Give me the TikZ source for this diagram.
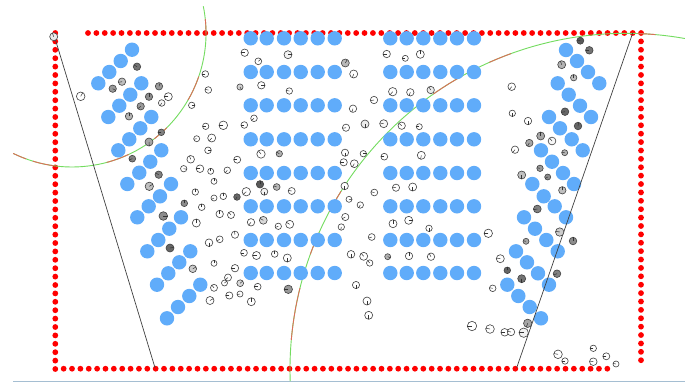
\documentclass[tikz,border=0pt]{standalone}
\definecolor{seat}{RGB}{96,172,250}
\definecolor{wallred}{RGB}{255,0,0}
\definecolor{arcgreen}{RGB}{115,220,95}
\definecolor{arcred}{RGB}{220,110,90}
\definecolor{floorline}{RGB}{165,190,210}
\tikzset{
  wall/.style={fill=wallred},
  seatdot/.style={fill=seat},
  sightline/.style={draw=black!75,line width=0.7pt},
  wave/.style={line width=0.9pt}
}
\newcommand{\ped}[5]{%
  \filldraw[draw=black!75,line width=0.6pt,fill=black!#4] (#1,#2) circle[radius=#3pt];
  \draw[black!80,line width=0.5pt] (#1,#2) -- ++(#5:#3pt);}
\begin{document}
\begin{tikzpicture}[x=1pt,y=-1pt]
\useasboundingbox (0,0) rectangle (685,384);
\fill[white] (0,0) rectangle (685,384);
% floor line
\draw[floorline,line width=0.9pt] (13,381.7) -- (685,381.7);
% red walls
\foreach \i in {0,...,40} \fill[wall] (55.3,33+8.4*\i) circle[radius=2.9pt];
\foreach \i in {1,...,66} \fill[wall] (55.3+8.364*\i,368.7) circle[radius=2.9pt];
\foreach \i in {0,...,66} \fill[wall] (88+8.38*\i,33) circle[radius=2.9pt];
\foreach \i in {1,...,39} \fill[wall] (641,33+8.39*\i) circle[radius=2.9pt];
% arcs
\coordinate (ca) at (72,33);
\coordinate (cb) at (626,369.3);
\draw[wave,arcgreen] (ca) ++(11.5:134pt) arc[start angle=11.5,end angle=-116,radius=134pt];
\foreach \s/\e in {6/0,-19/-30,-45/-52,-65/-75,-98/-107,-110/-116}
  \draw[wave,arcred] (ca) ++(\s:134pt) arc[start angle=\s,end angle=\e,radius=134pt];
\draw[wave,arcgreen] (cb) ++(182:336pt) arc[start angle=182,end angle=79.8,radius=336pt];
\foreach \s/\e in {175/166,160/156,152/148,125/120,114/110,88/85}
  \draw[wave,arcred] (cb) ++(\s:336pt) arc[start angle=\s,end angle=\e,radius=336pt];
% blue seats: centre blocks
\foreach \y in {38.3,72,105.3,139.3,173,206.3,240,273}{
  \foreach \x in {250.7,266.7,284,300.7,317.7,334.7}
    \fill[seatdot] (\x,\y) circle[radius=7.2pt];
  \foreach \x in {390.3,406.7,423.3,440.3,457,474}
    \fill[seatdot] (\x,\y) circle[radius=7.2pt];
}
% blue seats: diagonals
\foreach \x/\y in {132/49.7,120.7/61,109.3/72,98.3/83.3,
 141.3/83.3,130.3/94.7,119.3/105.7,108.3/117,
 151.3/117,140.3/128.3,129.3/139.3,118.3/150.3,
 161.3/150.3,150.3/161.7,139.3/172.7,127.3/184,
 171/184,160/196.3,148.7/206.3,137.3/217.3,
 181/217.3,169.3/228.7,158.3/240,147.3/251.3,
 190.3/251.3,179.3/262.3,168.3/273.3,157/284.7,
 200.3/284.7,189.3/296,178/307,167/318.3,
 566/50,577/61,588/72,599.3/83.3,
 557.7/83.3,568.7/94.7,580/105.7,591/117,
 549/117,560/128.3,571.7/139.3,582.7/150.3,
 541/150.3,552/161.7,563/173,574/184,
 532.3/184,543.7/196.3,554.7/206.3,566/217.3,
 524/217.3,535/228.7,546.3/240,557.7/251.3,
 516/251.3,527/262.3,538/273.3,549/284.7,
 507.3/284.7,518.3/296,529.7/307,541/318.3}
  \fill[seatdot] (\x,\y) circle[radius=7.2pt];
% sight lines
\coordinate (la) at (54,35);
\coordinate (lb) at (155,367.7);
\coordinate (ra) at (632.7,33);
\coordinate (rb) at (516.7,367.7);
\draw[sightline] (la) -- (lb);
\draw[sightline] (ra) -- (rb);
% pedestrians: x, y, radius, darkness, heading
\ped{53.7}{36.7}{4}{8}{110}
\ped{80.7}{96.3}{4.3}{0}{60}
\ped{137}{66.7}{3.7}{55}{150}
\ped{122}{81.7}{3.7}{25}{190}
\ped{112.7}{88.7}{3.7}{40}{-30}
\ped{159}{86.3}{3.7}{40}{70}
\ped{149}{96.7}{3.7}{45}{90}
\ped{168.3}{96.7}{4}{0}{180}
\ped{161.7}{103}{3.3}{3}{-120}
\ped{140.7}{106.3}{3.7}{40}{220}
\ped{129}{116.3}{3.7}{30}{90}
\ped{161.3}{132.3}{3.3}{50}{180}
\ped{149}{142}{4}{35}{-85}
\ped{132.3}{158.7}{3.4}{50}{200}
\ped{158.7}{174.7}{3.7}{50}{150}
\ped{149.3}{186.3}{4.2}{25}{30}
\ped{205.3}{74}{3.3}{0}{180}
\ped{208.3}{90}{3.3}{0}{170}
\ped{191.7}{105.3}{3.2}{0}{0}
\ped{205.7}{126.3}{3.2}{0}{180}
\ped{223.3}{125.3}{4.3}{0}{180}
\ped{196.7}{138.7}{3}{0}{190}
\ped{211.7}{138}{4}{0}{230}
\ped{208}{150.3}{3.3}{0}{0}
\ped{190.7}{159.3}{3.8}{0}{110}
\ped{183.7}{168.7}{3.2}{0}{-10}
\ped{200}{168.7}{3.8}{0}{180}
\ped{210.7}{171.3}{3}{0}{90}
\ped{214}{181.3}{3}{0}{90}
\ped{227.3}{170.3}{3.3}{0}{230}
\ped{244.3}{125}{3.3}{0}{180}
\ped{254}{118.3}{3.3}{0}{220}
\ped{261}{154}{4.2}{0}{130}
\ped{237.2}{159.7}{3.5}{0}{180}
\ped{260}{184.3}{3.7}{65}{90}
\ped{276.7}{187}{3.4}{28}{160}
\ped{264.3}{191.7}{3.5}{5}{-90}
\ped{291.7}{191}{3.5}{0}{170}
\ped{246.3}{191.7}{4.2}{0}{220}
\ped{237}{197}{3.3}{60}{-120}
\ped{223.3}{196.3}{3.3}{0}{90}
\ped{214}{198}{3}{0}{-150}
\ped{195.3}{192}{3.2}{0}{90}
\ped{184.3}{203.3}{3.3}{45}{90}
\ped{201.7}{207.2}{3.3}{0}{90}
\ped{219.7}{214}{3.7}{0}{90}
\ped{231}{215}{3.5}{0}{130}
\ped{196.3}{223}{4}{0}{90}
\ped{251}{222.3}{3.7}{0}{-130}
\ped{263.3}{220.3}{3.9}{15}{150}
\ped{235}{234.7}{3.6}{0}{100}
\ped{209}{242.7}{3.8}{0}{-90}
\ped{219.7}{239.3}{3.4}{0}{-150}
\ped{244}{252.8}{3.4}{0}{180}
\ped{256.5}{255.5}{4}{0}{180}
\ped{192.8}{268.8}{3.8}{20}{30}
\ped{214}{263.3}{3}{0}{90}
\ped{235}{268.2}{3.7}{0}{180}
\ped{228}{277.5}{3.5}{0}{220}
\ped{224.5}{283}{3}{0}{40}
\ped{240.2}{283.2}{3.4}{15}{40}
\ped{257.7}{286.7}{3.4}{0}{180}
\ped{214}{287.8}{3.5}{0}{130}
\ped{210}{300.5}{4}{0}{30}
\ped{229.3}{295.5}{3.6}{0}{180}
\ped{240}{294}{3}{0}{190}
\ped{251.3}{301.7}{4}{0}{90}
\ped{163.3}{216}{4.3}{45}{0}
\ped{170}{248}{4}{60}{10}
\ped{244.7}{52.7}{3.7}{0}{180}
\ped{258.3}{61.3}{3.4}{0}{40}
\ped{288}{54.7}{4}{5}{0}
\ped{345.3}{63}{4}{28}{60}
\ped{353.7}{74}{4}{0}{-110}
\ped{240}{87}{3.1}{18}{-60}
\ped{261.3}{85.3}{3.7}{0}{0}
\ped{289.3}{91}{3.2}{0}{170}
\ped{374}{100}{3.7}{0}{190}
\ped{353}{108.7}{3.7}{0}{-110}
\ped{392.7}{91.7}{4.2}{0}{-130}
\ped{410.3}{92.3}{3.7}{0}{-110}
\ped{430.7}{90}{3.7}{8}{120}
\ped{386.7}{54}{3.7}{0}{180}
\ped{405.3}{58.3}{3}{0}{180}
\ped{420.3}{54.3}{4}{0}{90}
\ped{346}{127.7}{3.6}{0}{190}
\ped{365}{124}{4}{8}{-90}
\ped{383.7}{123.7}{4}{3}{170}
\ped{401.7}{125.7}{3.7}{0}{140}
\ped{419.3}{126.7}{3}{0}{180}
\ped{279.3}{153.7}{3.2}{30}{150}
\ped{345}{152.7}{3.6}{0}{-90}
\ped{363.3}{153.7}{3.2}{0}{0}
\ped{343.7}{162.3}{3.6}{0}{180}
\ped{354.3}{163.7}{3.9}{0}{-120}
\ped{384.3}{156.7}{3.4}{0}{180}
\ped{421.3}{155.3}{4}{0}{-100}
\ped{344.7}{186}{3.7}{0}{-90}
\ped{396}{187.7}{3.6}{0}{170}
\ped{412.7}{187}{4}{0}{-90}
\ped{374.3}{192.5}{3.4}{0}{170}
\ped{349}{199.3}{3}{0}{-10}
\ped{360.3}{205}{3.2}{0}{-120}
\ped{345.3}{217}{3.6}{0}{-150}
\ped{341.3}{227}{3.2}{0}{-100}
\ped{278.3}{226.3}{3.2}{0}{200}
\ped{289.7}{224.3}{4}{0}{150}
\ped{393}{223.7}{4}{0}{90}
\ped{408.7}{220.3}{4}{0}{0}
\ped{429}{228.3}{3.2}{0}{-90}
\ped{371.7}{237}{3.4}{0}{200}
\ped{274.7}{254}{3.3}{0}{90}
\ped{287.3}{258}{4}{0}{-90}
\ped{351}{254.3}{3.8}{0}{-90}
\ped{363.7}{256.3}{4}{0}{130}
\ped{369.7}{263}{3.2}{0}{130}
\ped{387.7}{256.7}{3}{30}{-20}
\ped{409}{256}{3.7}{0}{90}
\ped{431}{256.7}{3.7}{0}{120}
\ped{288.3}{289.3}{4.2}{40}{180}
\ped{356}{285}{3.6}{0}{-90}
\ped{367}{301}{4}{0}{-90}
\ped{368.7}{315.3}{4}{0}{-90}
\ped{580.3}{40.7}{3.5}{65}{170}
\ped{589.3}{50.3}{3.8}{55}{180}
\ped{561.7}{64.7}{4}{30}{110}
\ped{573.7}{77.7}{3.2}{25}{90}
\ped{511.7}{86.7}{3.8}{0}{-130}
\ped{512.3}{113.3}{3.2}{0}{-90}
\ped{528}{121}{3.7}{0}{-90}
\ped{565}{111.7}{3.8}{60}{190}
\ped{578}{126}{3.8}{60}{80}
\ped{540.7}{136}{4}{35}{90}
\ped{552}{141}{3.9}{3}{130}
\ped{529.3}{143}{3.7}{35}{-120}
\ped{515}{149.7}{3.7}{0}{-130}
\ped{564.7}{152.7}{3}{30}{170}
\ped{540}{168.3}{3.2}{40}{170}
\ped{547.7}{177}{3}{45}{-150}
\ped{521.7}{175}{4}{25}{-90}
\ped{562.3}{190.3}{3.7}{25}{90}
\ped{537.3}{209}{3.9}{50}{190}
\ped{559.7}{232}{4.2}{20}{170}
\ped{573}{241}{3.8}{45}{90}
\ped{526}{241.3}{3}{35}{170}
\ped{488.3}{233.3}{4.2}{0}{180}
\ped{500.3}{258.7}{4}{0}{170}
\ped{507.3}{270.3}{3.3}{60}{90}
\ped{521.7}{278.7}{4}{55}{-90}
\ped{557}{273.7}{3.8}{50}{200}
\ped{492.7}{288.3}{3.3}{0}{170}
\ped{527.7}{323.3}{4.2}{35}{-110}
\ped{472}{326}{4.7}{0}{180}
\ped{490}{329}{4.3}{0}{170}
\ped{504.7}{332.3}{3.8}{0}{180}
\ped{511}{332}{3.7}{0}{170}
\ped{523.7}{332.7}{4.7}{5}{180}
\ped{558}{354.3}{4.3}{0}{170}
\ped{565}{361}{3.2}{0}{180}
\ped{593.3}{348.3}{3.2}{0}{180}
\ped{606.3}{356.3}{3.5}{0}{180}
\ped{593.3}{361.7}{3.8}{0}{170}
\ped{616}{364}{3}{0}{170}
\end{tikzpicture}
\end{document}
